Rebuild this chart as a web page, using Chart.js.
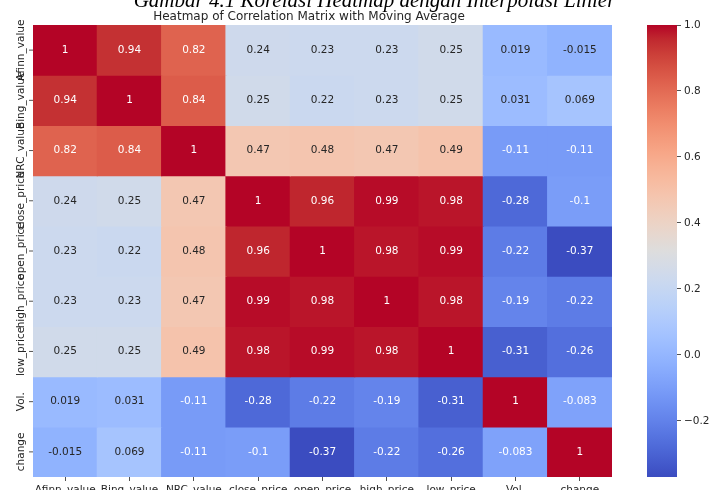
<!DOCTYPE html>
<html><head><meta charset="utf-8">
<script src="https://cdn.jsdelivr.net/npm/chart.js@4"></script>
<style>
html,body{margin:0;padding:0;background:#fff;overflow:hidden;width:713px;height:490px;}
#wrap{position:relative;width:713px;height:490px;overflow:hidden;}
#main{position:absolute;left:0;top:0;}
#cbar{position:absolute;left:620px;top:0;}
#caption{position:absolute;left:18px;width:713px;top:-10px;line-height:21px;text-align:center;font-family:'Liberation Serif',serif;font-style:italic;font-size:21px;white-space:nowrap;color:#000;z-index:2;}
</style></head>
<body><div id="wrap">
<div id="caption">Gambar 4.1 Korelasi Heatmap dengan Interpolasi Linier</div>
<canvas id="main" width="713" height="490"></canvas>
<canvas id="cbar" width="93" height="490"></canvas>
</div>
<script>
// ---- data ----
const variables = ['Afinn_value','Bing_value','NRC_value','close_price','open_price','high_price','low_price','Vol.','change'];
const afinnRow  = [1, 0.94, 0.82, 0.24, 0.23, 0.23, 0.25, 0.019, -0.015];
const bingRow   = [0.94, 1, 0.84, 0.25, 0.22, 0.23, 0.25, 0.031, 0.069];
const nrcRow    = [0.82, 0.84, 1, 0.47, 0.48, 0.47, 0.49, -0.11, -0.11];
const closeRow  = [0.24, 0.25, 0.47, 1, 0.96, 0.99, 0.98, -0.28, -0.1];
const openRow   = [0.23, 0.22, 0.48, 0.96, 1, 0.98, 0.99, -0.22, -0.37];
const highRow   = [0.23, 0.23, 0.47, 0.99, 0.98, 1, 0.98, -0.19, -0.22];
const lowRow    = [0.25, 0.25, 0.49, 0.98, 0.99, 0.98, 1, -0.31, -0.26];
const volRow    = [0.019, 0.031, -0.11, -0.28, -0.22, -0.19, -0.31, 1, -0.083];
const changeRow = [-0.015, 0.069, -0.11, -0.1, -0.37, -0.22, -0.26, -0.083, 1];
const colorbarTicks = [-0.2, 0.0, 0.2, 0.4, 0.6, 0.8, 1.0];
const titleText = 'Heatmap of Correlation Matrix with Moving Average';

const matrix = [afinnRow, bingRow, nrcRow, closeRow, openRow, highRow, lowRow, volRow, changeRow];
const allVals = matrix.flat();
const vmin = Math.min(...allVals), vmax = Math.max(...allVals);

// coolwarm colormap
const cmapStops = [[59,76,192],[68,90,204],[77,104,215],[87,117,225],[98,130,234],[108,142,241],[119,154,247],[130,165,251],[141,176,254],[152,185,255],[163,194,255],[174,201,253],[184,208,249],[194,213,244],[204,217,238],[213,219,230],[221,221,221],[229,216,209],[236,211,197],[241,204,185],[245,196,173],[247,187,160],[247,177,148],[247,166,135],[244,154,123],[241,141,111],[236,127,99],[229,112,88],[222,96,77],[213,80,66],[203,62,56],[192,40,47],[180,4,38]];
function coolwarm(t){
  t = Math.max(0, Math.min(1, t));
  const n = cmapStops.length - 1, f = t*n;
  const i = Math.min(Math.floor(f), n-1), u = f - i;
  const a = cmapStops[i], b = cmapStops[i+1];
  return a.map((v,k)=>Math.round(v + (b[k]-v)*u));
}
const rgb = c => `rgb(${c[0]},${c[1]},${c[2]})`;
const norm = v => (v - vmin)/(vmax - vmin);
function lum(c){
  const l = c.map(x=>{x/=255; return x <= 0.03928 ? x/12.92 : Math.pow((x+0.055)/1.055, 2.4);});
  return 0.2126*l[0] + 0.7152*l[1] + 0.0722*l[2];
}
const fmt = v => Number(v.toPrecision(2)).toString();
const FONT = "'DejaVu Sans', sans-serif";
const TXT = '#262626';

const annotPlugin = {
  id: 'annot',
  afterDatasetsDraw(chart){
    const {ctx, scales:{x, y}, chartArea} = chart;
    ctx.save();
    // title
    ctx.font = `12px ${FONT}`;
    ctx.fillStyle = TXT; ctx.textAlign = 'center'; ctx.textBaseline = 'middle';
    ctx.fillText(titleText, 309, 17);
    // cell annotations
    ctx.font = `10.5px ${FONT}`;
    matrix.forEach((row, r) => row.forEach((v, c) => {
      const col = coolwarm(norm(v));
      ctx.fillStyle = lum(col) > 0.408 ? TXT : '#ffffff';
      ctx.fillText(fmt(v), x.getPixelForValue(c), y.getPixelForValue(r + 0.5));
    }));
    // row labels + ticks
    ctx.strokeStyle = TXT; ctx.lineWidth = 0.8;
    variables.forEach((name, r) => {
      const py = y.getPixelForValue(r + 0.5);
      ctx.beginPath(); ctx.moveTo(chartArea.left - 4, py); ctx.lineTo(chartArea.left, py); ctx.stroke();
      ctx.save();
      ctx.translate(chartArea.left - 9.5, py);
      ctx.rotate(-Math.PI/2);
      ctx.textAlign = 'center'; ctx.textBaseline = 'alphabetic';
      ctx.fillStyle = TXT;
      ctx.fillText(name, 0, 0);
      ctx.restore();
    });
    ctx.restore();
  }
};

new Chart(document.getElementById('main'), {
  type: 'bar',
  data: {
    labels: variables,
    datasets: matrix.map((row, r) => ({
      label: variables[r],
      data: row.map(() => [r, r + 1]),
      backgroundColor: row.map(v => rgb(coolwarm(norm(v)))),
      grouped: false, barPercentage: 1, categoryPercentage: 1, borderWidth: 0, inflateAmount: 0.6
    }))
  },
  options: {
    responsive: false, animation: false, events: [],
    layout: {padding: {left: 33, right: 101, top: 25, bottom: 0}},
    plugins: {legend: {display: false}, tooltip: {enabled: false}, title: {display: false}},
    scales: {
      x: {type: 'category', position: 'bottom', offset: true,
        grid: {display: true, offset: false, drawOnChartArea: false, drawTicks: true, tickLength: 4, tickColor: TXT, tickWidth: 0.8},
        border: {display: false},
        ticks: {font: {family: FONT, size: 10.5}, color: TXT, padding: 3, autoSkip: false, maxRotation: 0, minRotation: 0},
        afterFit(s){ s.height = 13; }},
      y: {type: 'linear', min: 0, max: 9, reverse: true, display: false}
    }
  },
  plugins: [annotPlugin]
});

new Chart(document.getElementById('cbar'), {
  type: 'bar',
  data: {
    labels: [''],
    datasets: [{
      data: [[vmin, vmax]],
      backgroundColor: (ctx) => {
        const ch = ctx.chart; if (!ch.chartArea) return 'rgba(0,0,0,0)';
        const ys = ch.scales.y;
        const g = ch.ctx.createLinearGradient(0, ys.getPixelForValue(vmin), 0, ys.getPixelForValue(vmax));
        const n = cmapStops.length - 1;
        cmapStops.forEach((s, i) => g.addColorStop(i/n, rgb(s)));
        return g;
      },
      barPercentage: 1, categoryPercentage: 1, borderWidth: 0
    }]
  },
  options: {
    responsive: false, animation: false, events: [],
    layout: {padding: {left: 27, top: 25, bottom: 13, right: 0}},
    plugins: {legend: {display: false}, tooltip: {enabled: false}},
    scales: {
      x: {display: false},
      y: {position: 'right', min: vmin, max: vmax,
        afterBuildTicks(s){ s.ticks = colorbarTicks.map(v => ({value: v})); },
        grid: {display: true, drawOnChartArea: false, drawTicks: true, tickLength: 4, tickColor: TXT, tickWidth: 0.8},
        border: {display: false},
        ticks: {font: {family: FONT, size: 10.5}, color: TXT, padding: 3,
          callback: v => v.toFixed(1).replace('-', '\u2212')},
        afterFit(s){ s.width = 36; }}
    }
  }
});
</script>
</body></html>
